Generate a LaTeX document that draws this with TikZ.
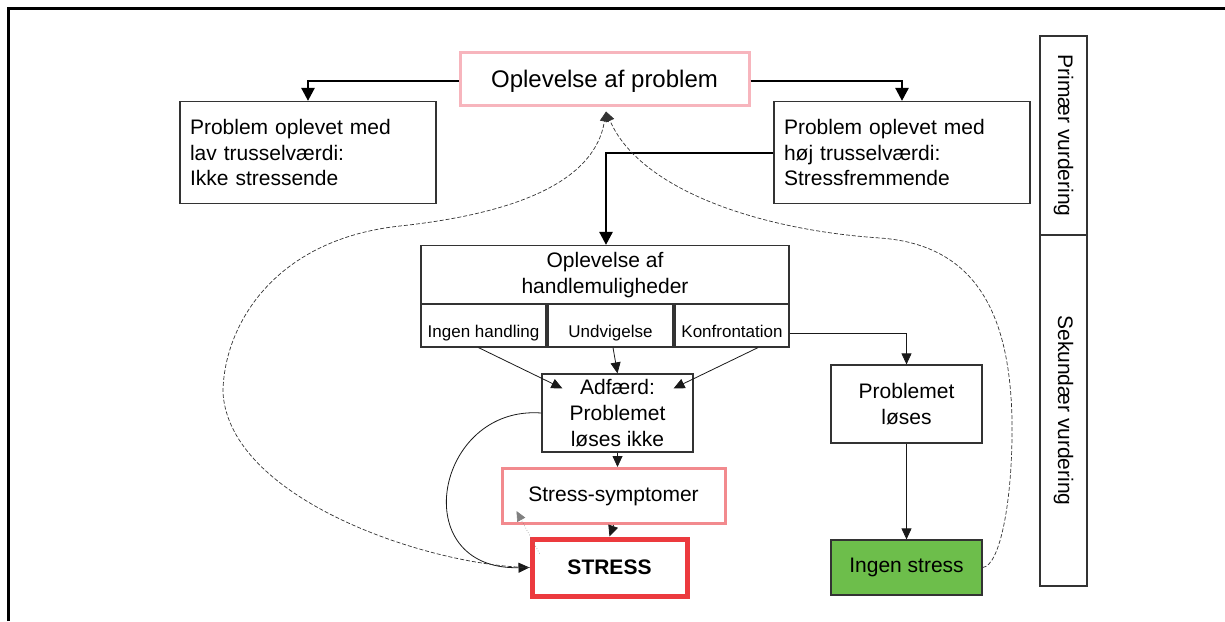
\documentclass[tikz,border=0pt]{standalone}
\usepackage{fontspec}
\setmainfont{Liberation Sans}
\usetikzlibrary{arrows.meta,calc}
\definecolor{pinkA}{HTML}{F7B5BD}
\definecolor{pinkB}{HTML}{F28A8E}
\definecolor{redC}{HTML}{EC3A3E}
\definecolor{greenD}{HTML}{6DBE4B}
\definecolor{boxline}{HTML}{333333}
\tikzset{
  box/.style={draw=boxline, line width=1.2pt, fill=white, inner sep=0pt, align=center,
    font=\fontsize{21}{25.5}\selectfont},
  lbox/.style={box, align=left, inner xsep=10pt},
  cell/.style={box, font=\fontsize{17}{20}\selectfont, text height=28pt, text depth=4pt},
  vlab/.style={box, rotate=-90, font=\fontsize{21}{25}\selectfont},
  thick arrow/.style={line width=2.6pt, -{Triangle[length=13pt,width=13pt]}},
  thin arrow/.style={line width=0.8pt, draw=black!90, -{Triangle[length=11pt,width=10pt]}},
  dash link/.style={line width=0.7pt, draw=black!80, dash pattern=on 4pt off 2pt,
    -{Triangle[length=10pt,width=9pt]}},
  dot link/.style={line width=0.6pt, draw=black!50, dotted, -{Triangle[length=10pt,width=9pt]}}
}
\begin{document}
\begin{tikzpicture}[x=1pt,y=-1pt]
\useasboundingbox (0,0) rectangle (1225,621);
\coordinate (fbl) at (8.5,621);
\coordinate (ftl) at (8.5,8.5);
\coordinate (ftr) at (1225,8.5);
\draw[line width=2.5pt] (fbl) -- (ftl) -- (ftr);

\node[box, draw=pinkA, line width=3pt, minimum width=289pt, minimum height=53pt,
  font=\fontsize{24}{28}\selectfont, text height=23.5pt, text depth=5pt] (prob)
  at (604.5,78.5) {Oplevelse af problem};
\node[lbox, text width=236pt, minimum height=102pt] (low) at (308,152.5)
  {Problem oplevet med\\lav trusselværdi:\\Ikke stressende};
\node[lbox, text width=236pt, minimum height=102pt] (high) at (902,152.5)
  {Problem oplevet med\\høj trusselværdi:\\Stressfremmende};

\node[box, minimum width=368pt, minimum height=59pt] (handle) at (605,275)
  {Oplevelse af\\handlemuligheder};
\node[cell, minimum width=125pt, minimum height=43pt] (ingen) at (483.5,325.5) {Ingen handling};
\node[cell, minimum width=125pt, minimum height=43pt] (undv) at (610.5,325.5) {Undvigelse};
\node[cell, minimum width=114pt, minimum height=43pt] (konf) at (732,325.5) {Konfrontation};

\node[box, minimum width=151pt, minimum height=78pt, font=\fontsize{21}{26}\selectfont] (adf)
  at (617.5,413) {Adfærd:\\Problemet\\løses ikke};
\node[box, draw=pinkB, line width=3pt, minimum width=223pt, minimum height=55pt] (symp)
  at (613.5,496) {Stress-symptomer};
\node[box, draw=redC, line width=5pt, minimum width=155pt, minimum height=57pt,
  font=\fontsize{21}{25.5}\selectfont\bfseries] (stress) at (609.5,567.5) {STRESS};

\node[box, minimum width=151pt, minimum height=78pt] (losning) at (906.5,404)
  {Problemet\\løses};
\node[box, fill=greenD, minimum width=151pt, minimum height=55pt] (nostress)
  at (906.5,567.5) {Ingen stress};

\node[vlab, minimum width=199pt, minimum height=47pt] (prim) at (1063.5,135.5) {Primær vurdering};
\node[vlab, minimum width=351pt, minimum height=47pt] (sek) at (1063.5,410.5) {Sekundær vurdering};

% thick arrows
\draw[thick arrow] ([yshift=-2.5pt]prob.west) -| (low.north);
\draw[thick arrow] ([yshift=-2.5pt]prob.east) -| (high.north);
\draw[thick arrow] ([yshift=-0.5pt]high.west) -| ([xshift=1pt]handle.north);

% thin arrows
\draw[thin arrow] ([yshift=-7.5pt]konf.east) -| (losning.north);
\draw[thin arrow] (losning.south) -- (nostress.north);
\draw[thin arrow] ([xshift=-5pt]ingen.south) -- ($(adf.north west)+(21,15)$);
\draw[thin arrow] ([xshift=2.5pt]undv.south) -- (adf.north);
\draw[thin arrow] ([xshift=26pt]konf.south) -- ($(adf.north east)+(-20,15)$);
\draw[thin arrow] (adf.south) -- (adf.south |- symp.north);
\draw[thin arrow] (symp.south) -- (stress.north);
\draw[thin arrow] (adf.west) .. controls (435,405) and (405,570) .. (stress.west);
\draw[dot link] ($(stress.north west)+(10,17)$) -- ($(symp.south west)+(16,-14)$);

% dashed feedback
\coordinate (ptop) at ($(prob.south)+(1.5,5)$);
\coordinate (lmid) at (223,393);
\coordinate (lup) at (400,226);
\coordinate (rmid) at (1012,420);
\coordinate (rup) at (880,238);
\draw[dash link] (stress.west) .. controls (430,566) and (230,500) .. (lmid)
  .. controls (223,330) and (270,240) .. (lup)
  .. controls (520,213) and (595,180) .. (ptop);
\draw[dash link] (nostress.east) .. controls (1000,566) and (1013,500) .. (rmid)
  .. controls (1010,320) and (980,245) .. (rup)
  .. controls (760,230) and (640,190) .. (ptop);
\end{tikzpicture}
\end{document}
